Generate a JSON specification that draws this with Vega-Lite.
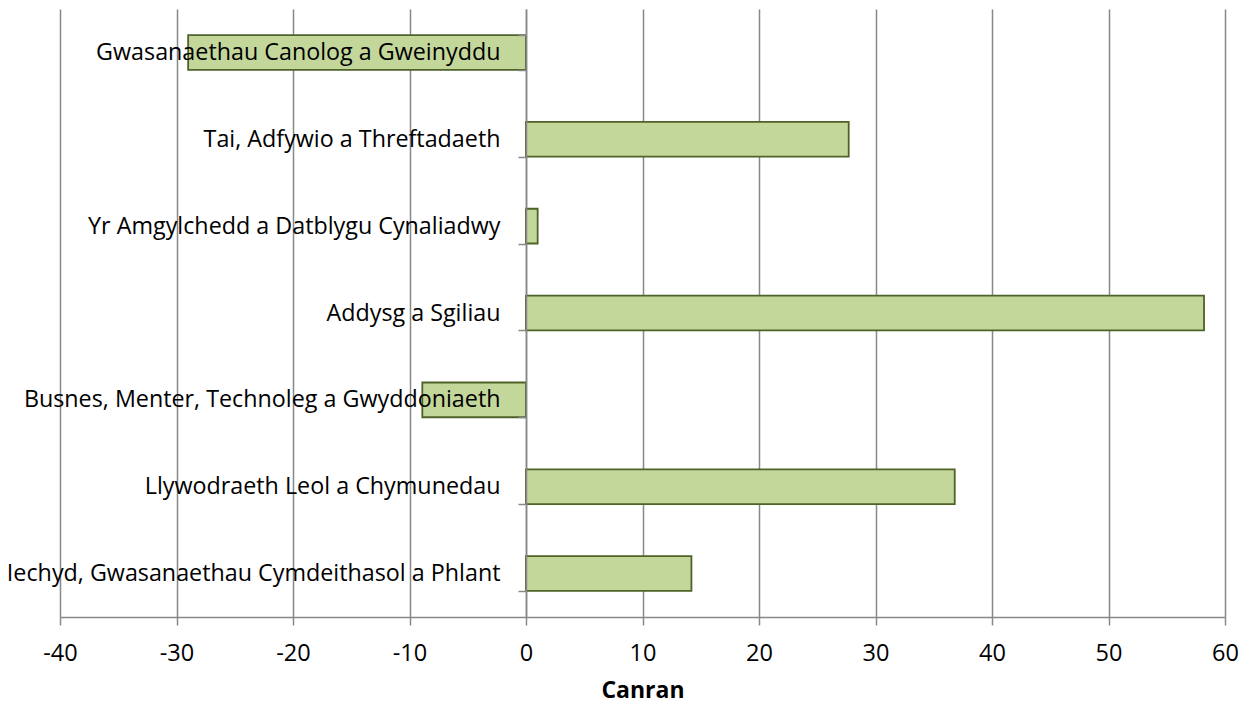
{
  "$schema": "https://vega.github.io/schema/vega-lite/v6.json",
  "width": 1165,
  "height": 608,
  "autosize": {"type": "none"},
  "padding": {"left": 60, "top": 9, "right": 23, "bottom": 86},
  "background": "white",
  "config": {"view": {"stroke": null}, "font": "Open Sans"},
  "data": {
    "values": [
      {"category": "Gwasanaethau Canolog a Gweinyddu", "value": -29.0},
      {"category": "Tai, Adfywio a Threftadaeth", "value": 27.7},
      {"category": "Yr Amgylchedd a Datblygu Cynaliadwy", "value": 1.0},
      {"category": "Addysg a Sgiliau", "value": 58.2},
      {"category": "Busnes, Menter, Technoleg a Gwyddoniaeth", "value": -8.9},
      {"category": "Llywodraeth Leol a Chymunedau", "value": 36.8},
      {"category": "Iechyd, Gwasanaethau Cymdeithasol a Phlant", "value": 14.2}
    ]
  },
  "mark": {"type": "bar", "fill": "#C4D79B", "stroke": "#4F6228", "strokeWidth": 1.8},
  "encoding": {
    "x": {
      "field": "value",
      "type": "quantitative",
      "scale": {"domain": [-40, 60], "nice": false},
      "axis": {
        "values": [-40, -30, -20, -10, 0, 10, 20, 30, 40, 50, 60],
        "labelExpr": "replace(datum.label, '−', '-')",
        "title": "Canran",
        "titleFont": "Open Sans",
        "titleFontSize": 23,
        "titleFontWeight": "bold",
        "titleColor": "black",
        "titleBaseline": "alphabetic",
        "titleY": 80,
        "labelFont": "Open Sans",
        "labelFontSize": 23.5,
        "labelColor": "black",
        "labelPadding": 16,
        "tickSize": 8,
        "tickColor": "#888888",
        "tickWidth": 1.5,
        "domainColor": "#888888",
        "domainWidth": 1.5,
        "grid": true,
        "gridColor": "#888888",
        "gridWidth": 1.5,
        "labelFlush": false,
        "labelOverlap": false,
        "zindex": 0
      }
    },
    "y": {
      "field": "category",
      "type": "nominal",
      "sort": null,
      "scale": {"paddingInner": 0.6, "paddingOuter": 0.3},
      "axis": {
        "title": null,
        "offset": -466,
        "labelFont": "Open Sans",
        "labelFontSize": 23.3,
        "labelColor": "black",
        "labelPadding": 18,
        "labelLimit": 0,
        "tickBand": "extent",
        "tickSize": 8,
        "tickColor": "#888888",
        "tickWidth": 1.5,
        "domainColor": "#888888",
        "domainWidth": 1.5,
        "grid": false,
        "zindex": 1
      }
    }
  }
}
